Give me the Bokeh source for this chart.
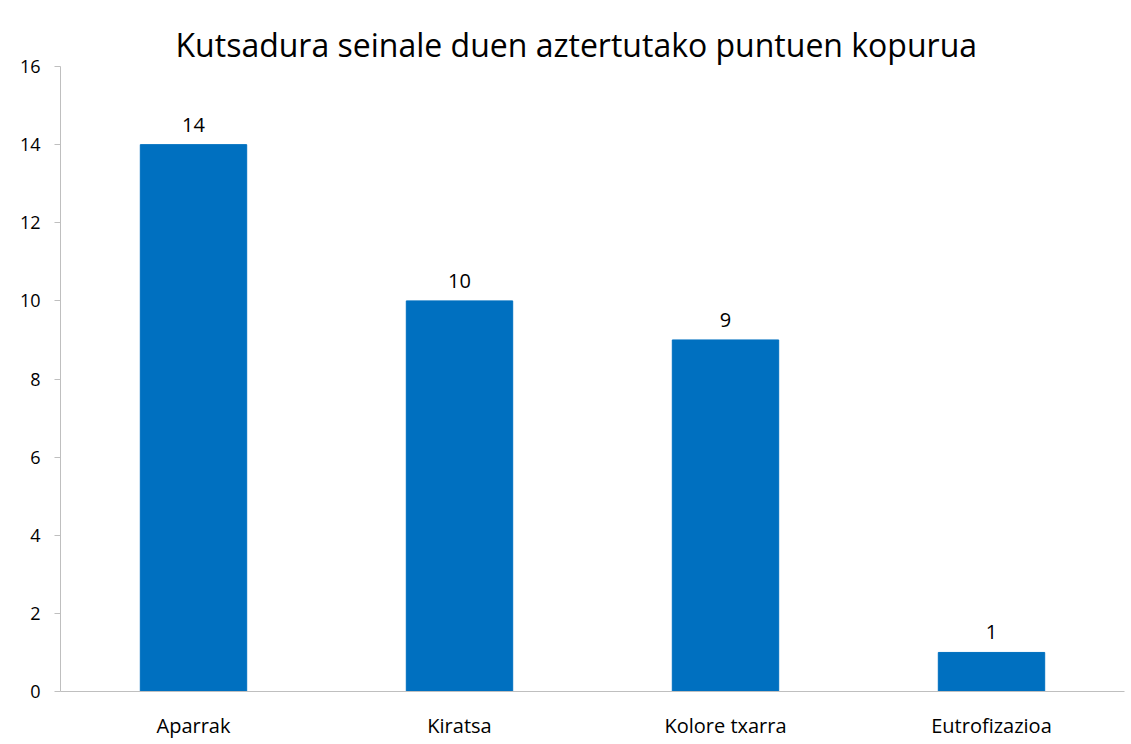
from bokeh.plotting import figure
from bokeh.models import ColumnDataSource, LabelSet, Range1d, FixedTicker
from bokeh.core.properties import value
from bokeh.embed import file_html
from bokeh.resources import INLINE

categories = ["Aparrak", "Kiratsa", "Kolore txarra", "Eutrofizazioa"]
counts = [14, 10, 9, 1]
y_ticks = [0, 2, 4, 6, 8, 10, 12, 14, 16]
title_text = "Kutsadura seinale duen aztertutako puntuen kopurua"

FONT = "Open Sans"
src = ColumnDataSource(dict(cat=categories, val=counts, lab=[str(v) for v in counts]))

p = figure(x_range=categories, y_range=Range1d(0, 16), width=1127, height=741,
           output_backend="svg", toolbar_location=None, title=title_text)
p.min_border_left = 60
p.min_border_right = 3
p.min_border_bottom = 50
p.min_border_top = 66
p.outline_line_color = None
p.background_fill_color = "white"
p.border_fill_color = "white"

p.title.text_font = FONT
p.title.text_font_style = "normal"
p.title.text_font_size = "32px"
p.title.text_line_height = 0.9
p.title.text_color = "#000000"
p.title.align = "left"
p.title.offset = 115
p.title.standoff = 2

p.vbar(x="cat", top="val", width=0.4, source=src, color="#0070C0")

labels = LabelSet(x="cat", y="val", text="lab", source=src, y_offset=13,
                  text_align="center", text_baseline="bottom",
                  text_font=value(FONT),
                  text_font_size="20px", text_color="#000000")
p.add_layout(labels)

p.xgrid.grid_line_color = None
p.ygrid.grid_line_color = None
p.x_range.range_padding = 0

p.yaxis.ticker = FixedTicker(ticks=y_ticks)
p.yaxis.axis_line_color = "#bfbfbf"
p.yaxis.major_tick_line_color = "#bfbfbf"
p.yaxis.major_tick_out = 6
p.yaxis.major_tick_in = 0
p.yaxis.minor_tick_line_color = None
p.yaxis.major_label_text_font = FONT
p.yaxis.major_label_text_font_size = "18px"
p.yaxis.major_label_text_color = "#000000"
p.yaxis.major_label_standoff = 14

p.xaxis.axis_line_color = "#bfbfbf"
p.xaxis.major_tick_line_color = None
p.xaxis.major_tick_out = 0
p.xaxis.major_tick_in = 0
p.xaxis.minor_tick_line_color = None
p.xaxis.major_label_text_font = FONT
p.xaxis.major_label_text_font_size = "20px"
p.xaxis.major_label_text_color = "#000000"
p.xaxis.major_label_standoff = 20

open("out.html", "w").write(file_html(p, INLINE))
